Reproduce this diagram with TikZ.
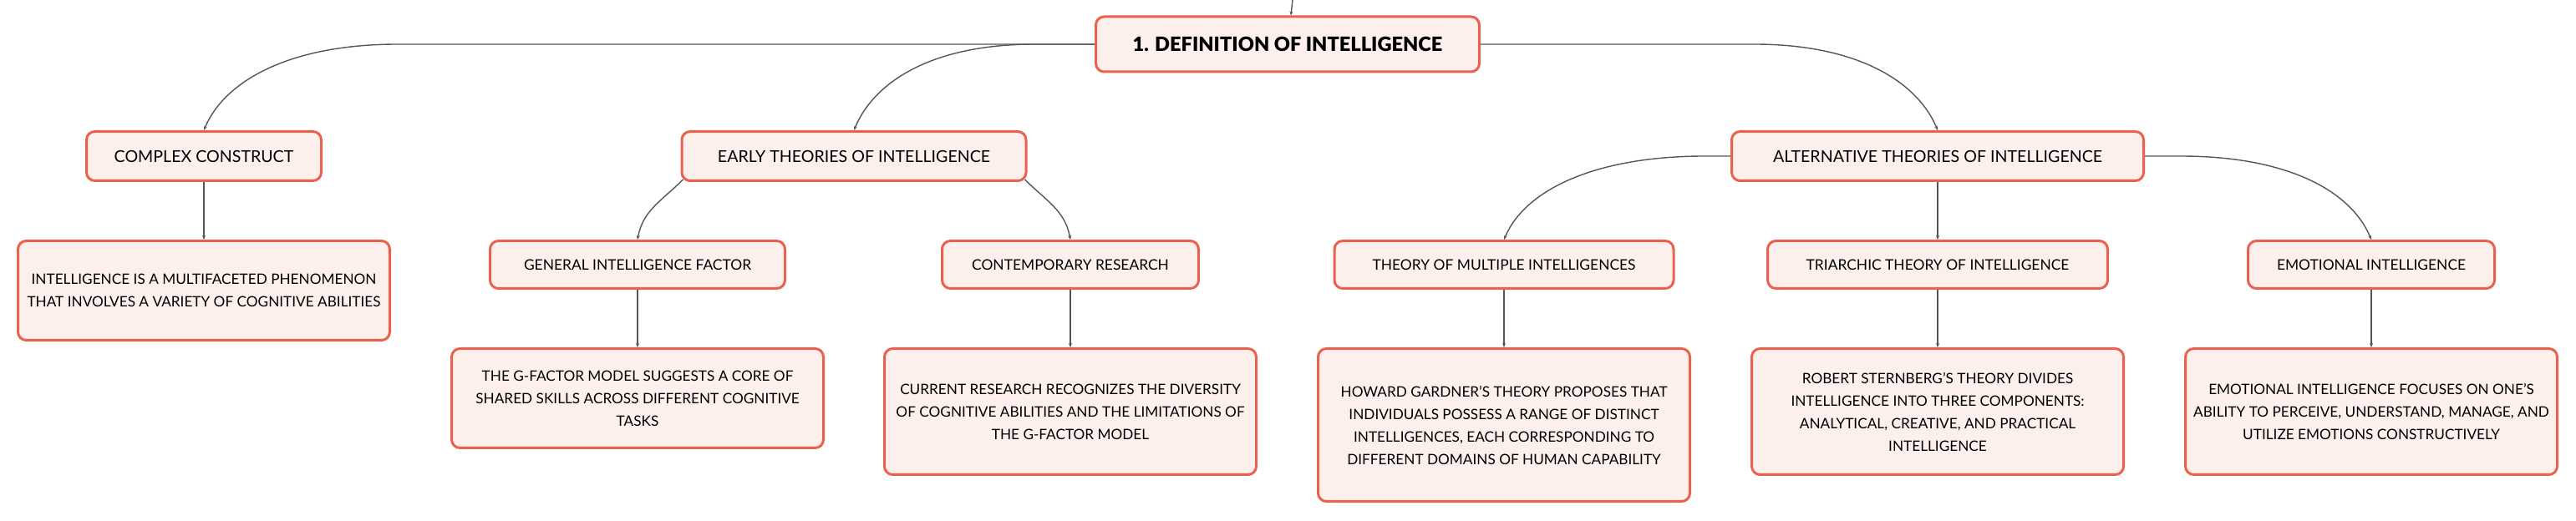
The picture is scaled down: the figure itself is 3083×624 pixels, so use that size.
\documentclass[tikz,border=0pt]{standalone}
\usepackage{fontspec}
\setmainfont{Lato}
\newfontfamily\heavyfont{Lato Black}
\usetikzlibrary{positioning,calc,arrows.meta}
\definecolor{boxline}{RGB}{234,98,78}
\definecolor{boxfill}{RGB}{253,240,236}
\definecolor{linkgray}{RGB}{85,85,85}

\begin{document}
\begin{tikzpicture}[x=0.5pt, y=-0.5pt, node distance=34.5pt,
    main/.style = {draw=boxline, fill=boxfill, line width=1.5pt, rounded corners=5pt, align=center, inner sep=0pt},
    top/.style = {main, font=\fontsize{11.8}{14}\heavyfont, minimum width=229.5pt, minimum height=33pt},
    theme/.style = {main, font=\fontsize{9.8}{12}\selectfont, minimum height=29.5pt},
    sub/.style = {main, font=\fontsize{8.7}{12}\selectfont, minimum height=28.5pt},
    info/.style = {main, font=\fontsize{8.6}{13.5}\selectfont, minimum width=222.5pt},
    link/.style = {draw=linkgray, line width=0.7pt, -{Stealth[length=2.5pt,width=2pt]}}]
    \useasboundingbox (0,0) rectangle (3083,624);
    \node[top] (1) at (1541,53) {1. DEFINITION OF INTELLIGENCE};
    \node[theme, minimum width=140.5pt] (2) at (244,187) {COMPLEX CONSTRUCT};
    \node[theme, minimum width=206pt] (3) at (1022,187) {EARLY THEORIES OF INTELLIGENCE};
    \node[theme, minimum width=246.5pt] (4) at (2319,187) {ALTERNATIVE THEORIES OF INTELLIGENCE};
    \node[info, minimum height=59.5pt] (5) [below=of 2] {INTELLIGENCE IS A MULTIFACETED PHENOMENON\\THAT INVOLVES A VARIETY OF COGNITIVE ABILITIES};
    \node[sub, minimum width=176.5pt] (6) at (763,317) {GENERAL INTELLIGENCE FACTOR};
    \node[sub, minimum width=153.5pt] (7) at (1281,317) {CONTEMPORARY RESEARCH};
    \node[info, minimum height=59.5pt] (8) [below=of 6] {THE G-FACTOR MODEL SUGGESTS A CORE OF\\SHARED SKILLS ACROSS DIFFERENT COGNITIVE\\TASKS};
    \node[info, minimum height=75.5pt] (9) [below=of 7] {CURRENT RESEARCH RECOGNIZES THE DIVERSITY\\OF COGNITIVE ABILITIES AND THE LIMITATIONS OF\\THE G-FACTOR MODEL};
    \node[sub, minimum width=203pt] (10) at (1800,317) {THEORY OF MULTIPLE INTELLIGENCES};
    \node[sub, minimum width=203.5pt] (11) at (2319,317) {TRIARCHIC THEORY OF INTELLIGENCE};
    \node[sub, minimum width=147.5pt] (12) at (2838,317) {EMOTIONAL INTELLIGENCE};
    \node[info, minimum height=91.5pt] (13) [below=of 10] {HOWARD GARDNER'S THEORY PROPOSES THAT\\INDIVIDUALS POSSESS A RANGE OF DISTINCT\\INTELLIGENCES, EACH CORRESPONDING TO\\DIFFERENT DOMAINS OF HUMAN CAPABILITY};
    \node[info, minimum height=75.5pt] (14) [below=of 11] {ROBERT STERNBERG'S THEORY DIVIDES\\INTELLIGENCE INTO THREE COMPONENTS:\\ANALYTICAL, CREATIVE, AND PRACTICAL\\INTELLIGENCE};
    \node[info, minimum height=75.5pt] (15) [below=of 12] {EMOTIONAL INTELLIGENCE FOCUSES ON ONE'S\\ABILITY TO PERCEIVE, UNDERSTAND, MANAGE, AND\\UTILIZE EMOTIONS CONSTRUCTIVELY};
    % connectors
    \coordinate (0) at (1547,0);
    \draw[link] (0) -- (1);
    \draw[link] (1.west) -- ($(2.north |- 1.west)+(232,0)$) .. controls +(-128,0) and +(25,-60) .. (2.north);
    \draw[link] (1.west) -- ($(3.north |- 1.west)+(216,0)$) .. controls +(-120,0) and +(25,-60) .. (3.north);
    \draw[link] (1.east) -- ($(4.north |- 1.east)+(-219,0)$) .. controls +(120,0) and +(-25,-60) .. (4.north);
    \draw[link] (4.west) -- ($(10.north |- 4.west)+(240,0)$) .. controls +(-130,0) and +(25,-60) .. (10.north);
    \draw[link] (4.east) -- ($(12.north |- 4.east)+(-228,0)$) .. controls +(125,0) and +(-25,-60) .. (12.north);
    \draw[link] ([shift={(1.5pt,1.5pt)}]3.south west) to[out=225,in=80] (6.north);
    \draw[link] ([shift={(-1.5pt,1.5pt)}]3.south east) to[out=-45,in=100] (7.north);
    \draw[link] (4) -- (11);
    \draw[link] (2) -- (5);
    \draw[link] (6) -- (8);
    \draw[link] (7) -- (9);
    \draw[link] (10) -- (13);
    \draw[link] (11) -- (14);
    \draw[link] (12) -- (15);
\end{tikzpicture}
\end{document}
